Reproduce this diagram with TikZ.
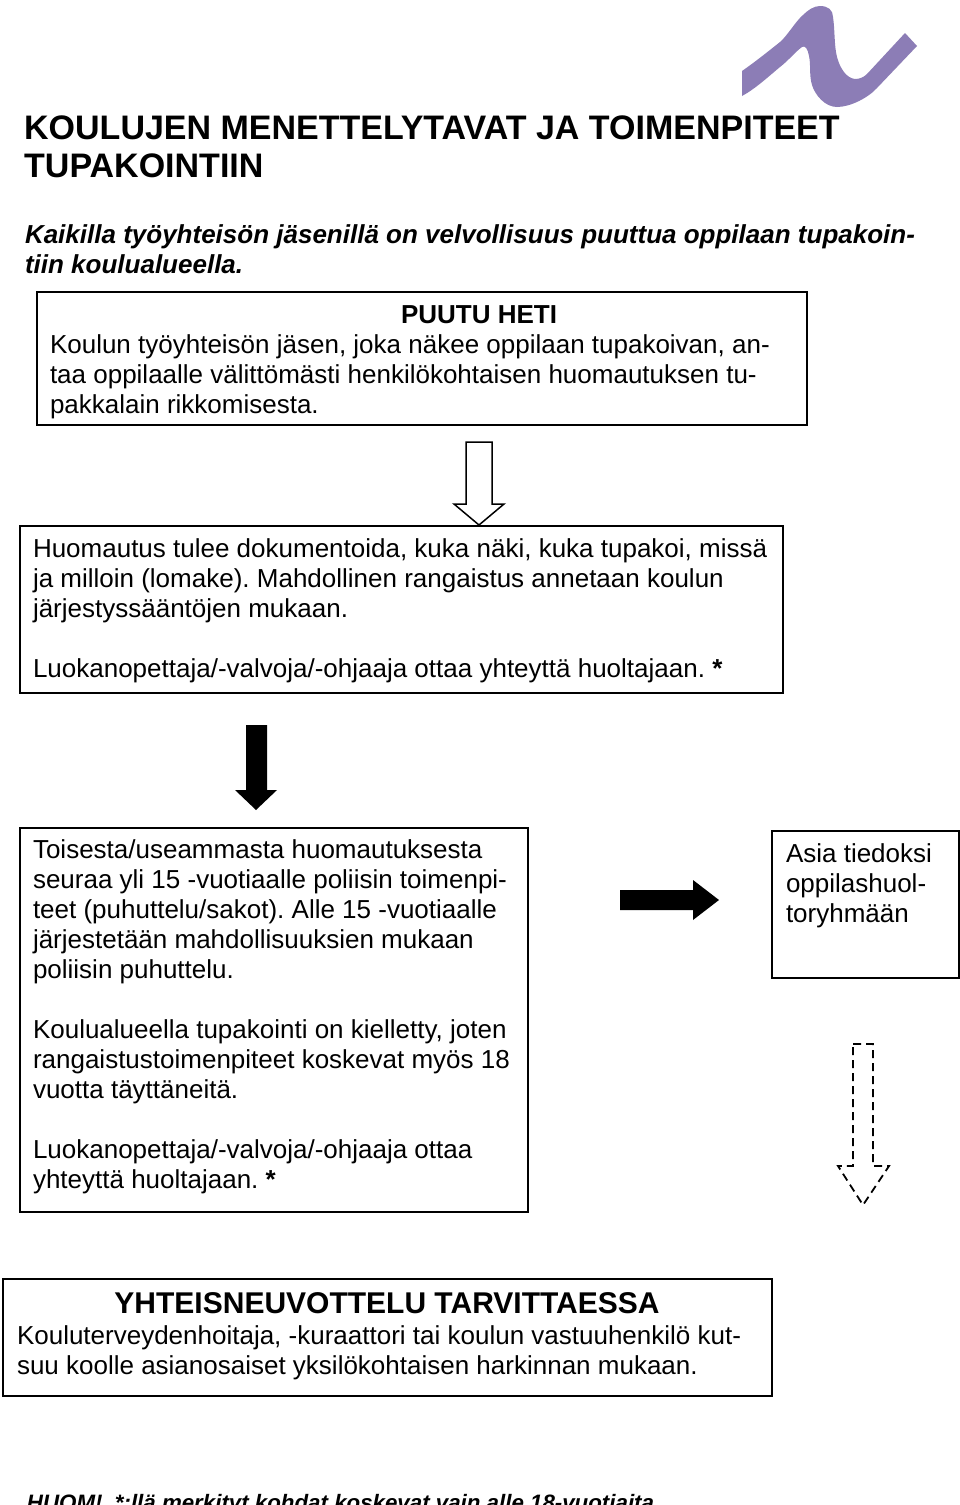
\documentclass[tikz,border=0pt]{standalone}
\usepackage{fontspec}
\setmainfont{Liberation Sans}
\definecolor{logo}{HTML}{8C7DB6}
\tikzset{
  x=1pt,y=-1pt,
  txt/.style={anchor=base west,inner sep=0pt,outer sep=0pt,align=left,font=\fontsize{26}{30}\selectfont},
  hdr/.style={anchor=base,inner sep=0pt,outer sep=0pt,font=\fontsize{26}{30}\selectfont\bfseries},
  boxx/.style={draw=black,line width=1.6pt,inner sep=0pt},
  hollow/.style={draw=black,line width=1.5pt,fill=white,line join=miter},
  solidarrow/.style={fill=black,draw=none},
  dasharrow/.style={draw=black,line width=1.8pt,dash pattern=on 8pt off 5pt}
}
\begin{document}
\frenchspacing
\begin{tikzpicture}[x=1pt,y=-1pt]
\useasboundingbox (0,0) rectangle (960,1505);
\fill[white] (0,0) rectangle (960,1505);
% logo
\fill[logo] (742,71) .. controls (755,62) and (770,50) .. (780,42)
  .. controls (788,35) and (795,22) .. (803,15)
  .. controls (808,10) and (814,6) .. (820,6)
  .. controls (828,6) and (833,10) .. (833,17)
  .. controls (835,30) and (834,45) .. (837,57)
  .. controls (840,68) and (846,78) .. (855,79)
  .. controls (860,79) and (864,77) .. (867,74)
  -- (905,33) -- (917,46) -- (877,88)
  .. controls (868,98) and (850,107) .. (837,107)
  .. controls (825,107) and (815,95) .. (812,85)
  .. controls (809,75) and (811,65) .. (809,56)
  .. controls (808,49) and (805,45) .. (802,47)
  .. controls (795,52) and (788,61) .. (780,67)
  .. controls (768,77) and (755,89) .. (742,96) -- cycle;
% heading
\node[anchor=base west,inner sep=0pt,align=left,font=\fontsize{34}{38}\selectfont\bfseries] (title) at (24,177) {KOULUJEN MENETTELYTAVAT JA TOIMENPITEET\\TUPAKOINTIIN};
\node[txt,font=\fontsize{26}{30}\selectfont\bfseries\itshape] (intro) at (25,273) {Kaikilla työyhteisön jäsenillä on velvollisuus puuttua oppilaan tupakoin-\\tiin koulualueella.};
% boxes
\node[boxx,minimum width=770pt,minimum height=133pt,anchor=north west] (b1) at (36,291) {};
\node[hdr] (b1h) at (479,323) {PUUTU HETI};
\node[txt] (b1t) at (50,413) {Koulun työyhteisön jäsen, joka näkee oppilaan tupakoivan, an-\\taa oppilaalle välittömästi henkilökohtaisen huomautuksen tu-\\pakkalain rikkomisesta.};
\node[boxx,minimum width=763pt,minimum height=167pt,anchor=north west] (b2) at (19,525) {};
\node[txt] (b2t) at (33,617) {Huomautus tulee dokumentoida, kuka näki, kuka tupakoi, missä\\ja milloin (lomake). Mahdollinen rangaistus annetaan koulun\\järjestyssääntöjen mukaan.};
\node[txt] (b2s) at (33,677) {Luokanopettaja/-valvoja/-ohjaaja ottaa yhteyttä huoltajaan. \textbf{*}};
\node[boxx,minimum width=508pt,minimum height=384pt,anchor=north west] (b3) at (19,827) {};
\node[txt] (b3a) at (33,978) {Toisesta/useammasta huomautuksesta\\seuraa yli 15 -vuotiaalle poliisin toimenpi-\\teet (puhuttelu/sakot). Alle 15 -vuotiaalle\\järjestetään mahdollisuuksien mukaan\\poliisin puhuttelu.};
\node[txt] (b3b) at (33,1098) {Koulualueella tupakointi on kielletty, joten\\rangaistustoimenpiteet koskevat myös 18\\vuotta täyttäneitä.};
\node[txt] (b3c) at (33,1188) {Luokanopettaja/-valvoja/-ohjaaja ottaa\\yhteyttä huoltajaan. \textbf{*}};
\node[boxx,minimum width=187pt,minimum height=147pt,anchor=north west] (b4) at (771,830) {};
\node[txt] (b4t) at (786,922) {Asia tiedoksi\\oppilashuol-\\toryhmään};
\node[boxx,minimum width=769pt,minimum height=117pt,anchor=north west] (b5) at (2,1278) {};
\node[anchor=base,inner sep=0pt,font=\fontsize{30}{36}\selectfont\bfseries] (b5h) at (387,1313) {YHTEISNEUVOTTELU TARVITTAESSA};
\node[txt] (b5t) at (17,1374) {Kouluterveydenhoitaja, -kuraattori tai koulun vastuuhenkilö kut-\\suu koolle asianosaiset yksilökohtaisen harkinnan mukaan.};
\node[txt,font=\fontsize{22.3}{28}\selectfont\bfseries\itshape] (note) at (27,1510) {HUOM!\ \ *:llä merkityt kohdat koskevat vain alle 18-vuotiaita};
% block arrows
\draw[hollow] (466,442) -- (492,442) -- (492,504) -- (504,504) -- (479,525) -- (454,504) -- (466,504) -- cycle;
\fill[solidarrow] (246,725) -- (267,725) -- (267,790) -- (277,790) -- (256,810) -- (235,790) -- (246,790) -- cycle;
\fill[solidarrow] (620,890) -- (693,890) -- (693,880) -- (719,900) -- (693,920) -- (693,910) -- (620,910) -- cycle;
\draw[dasharrow] (853,1044) -- (873,1044) -- (873,1166) -- (889,1166) -- (863,1205) -- (838,1166) -- (853,1166) -- cycle;
\end{tikzpicture}
\end{document}
